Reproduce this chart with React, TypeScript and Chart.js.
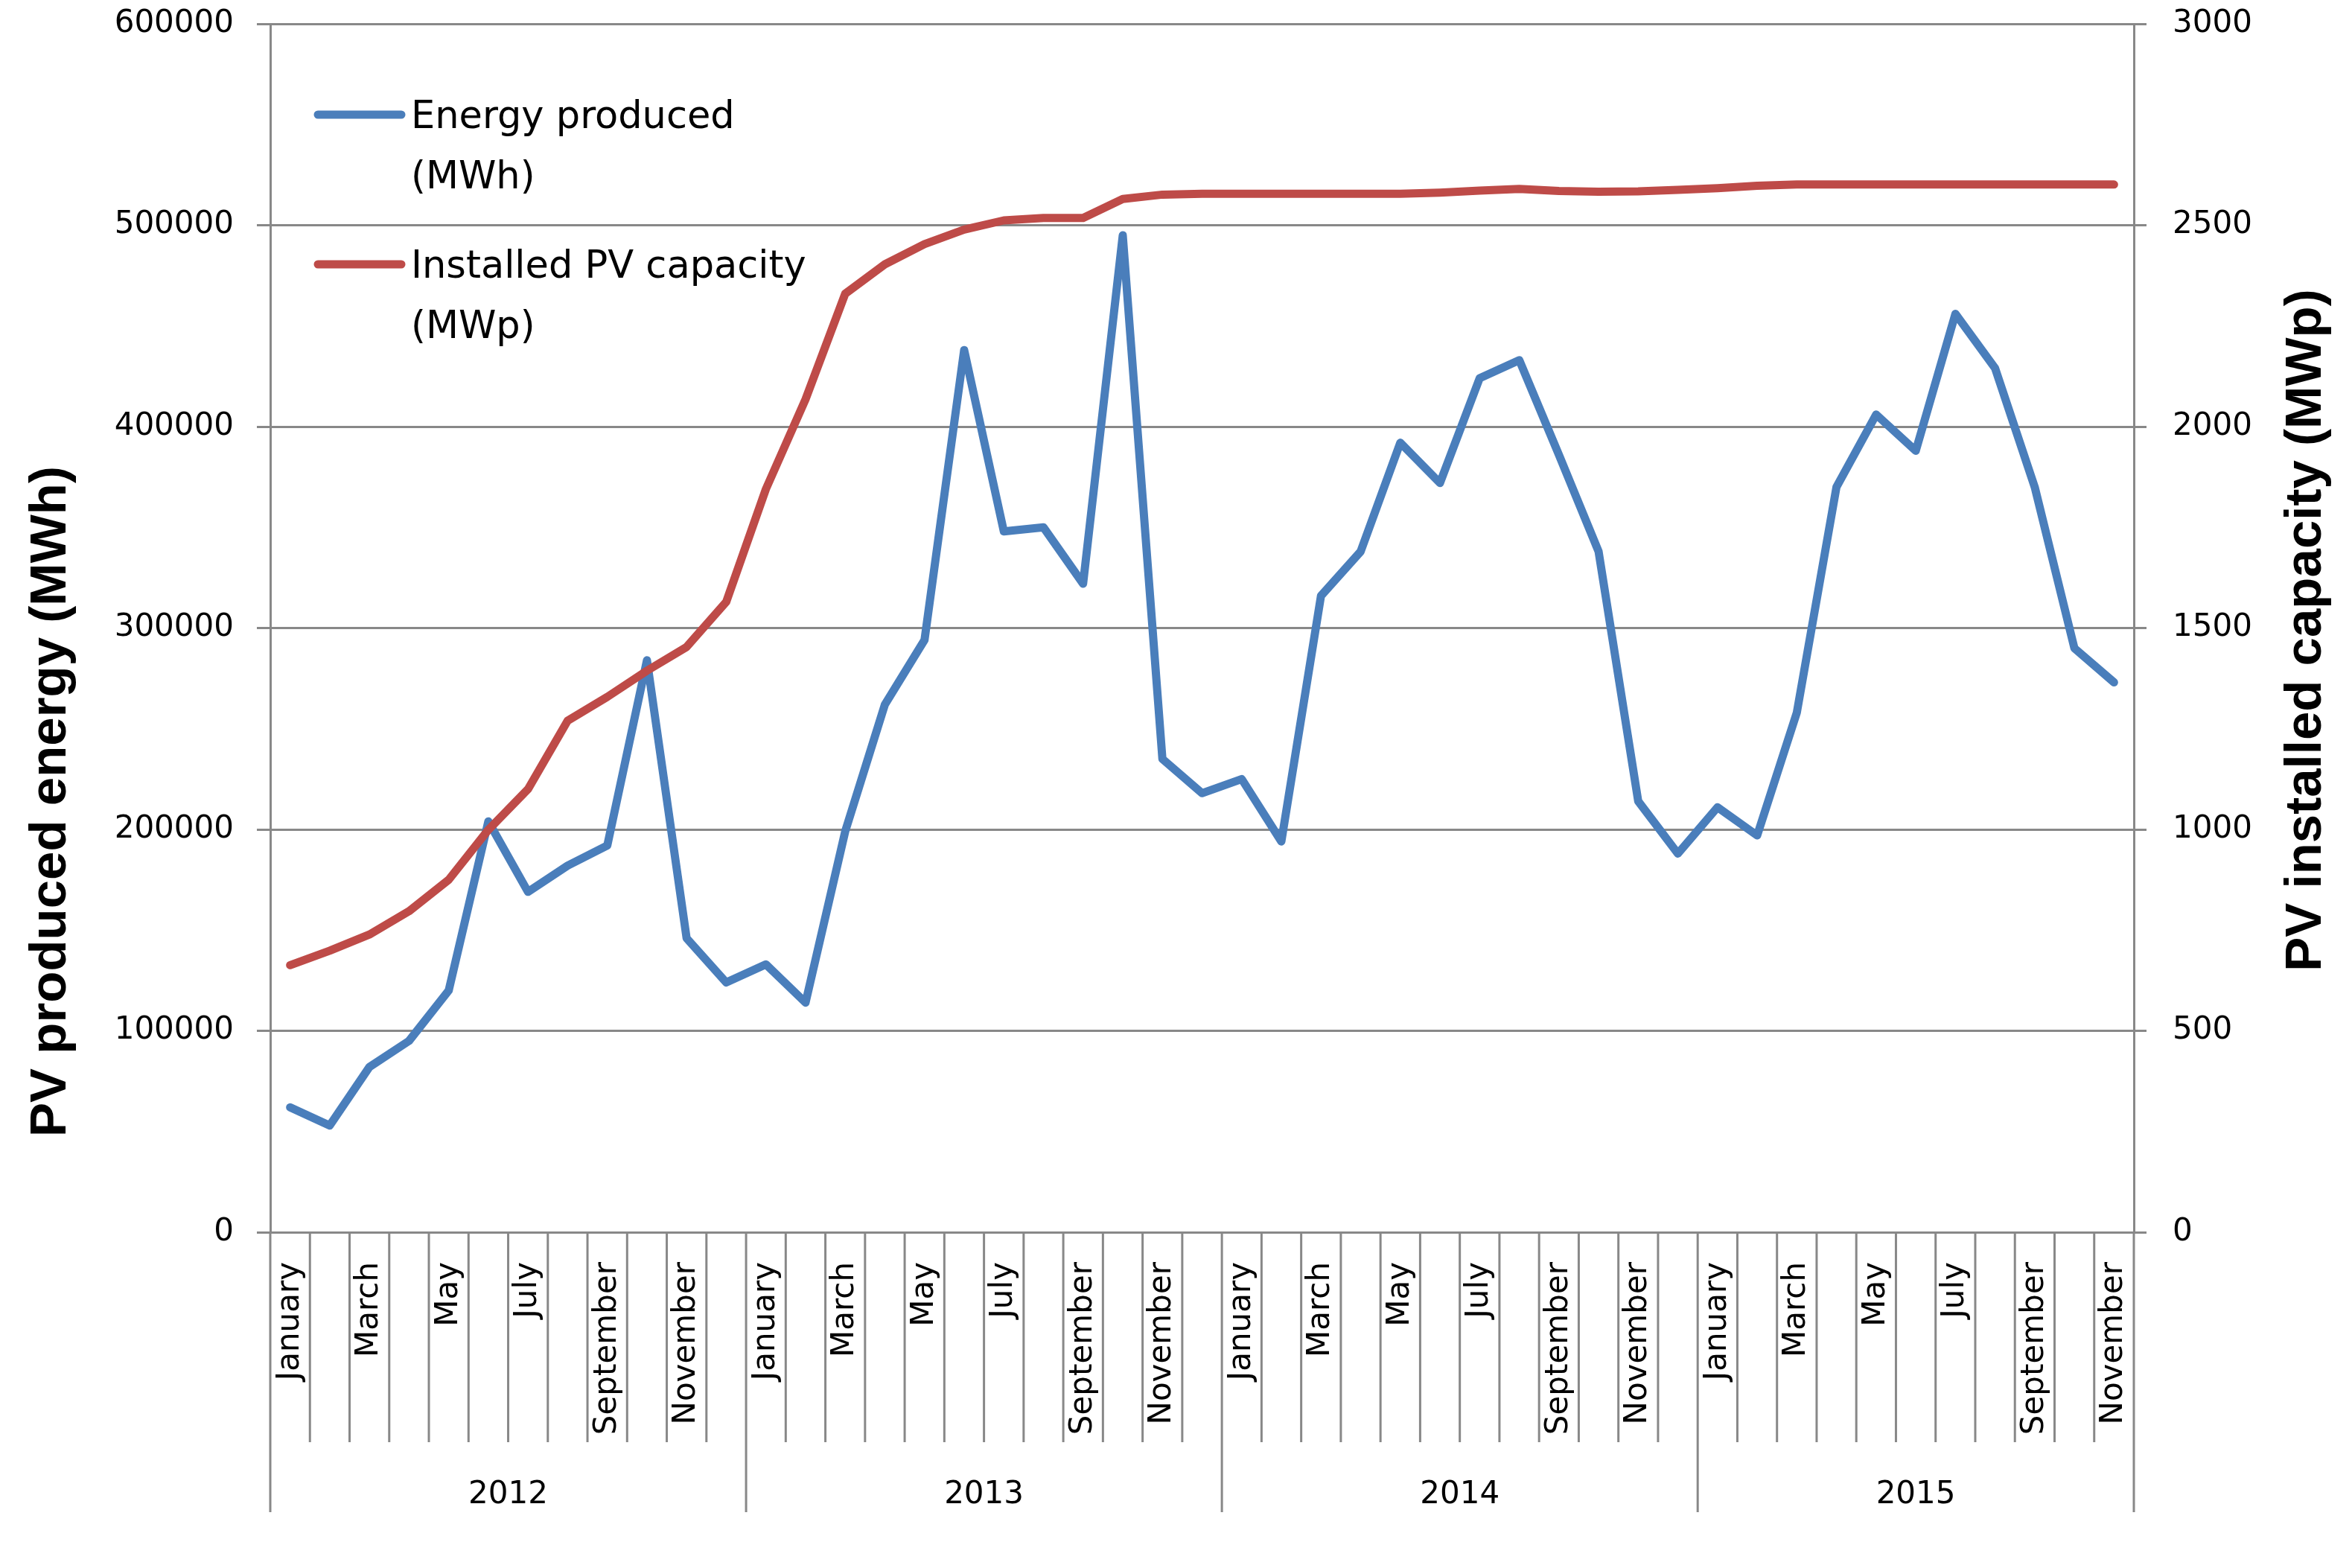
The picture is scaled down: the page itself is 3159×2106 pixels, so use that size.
import React, { useEffect, useRef } from 'react';
import { Chart, registerables } from 'chart.js';

Chart.register(...registerables);

// ---------- data ----------
const years = ['2012', '2013', '2014', '2015'];
const monthsPerYear = [12, 12, 12, 11];
const monthNames = [
  'January', 'February', 'March', 'April', 'May', 'June',
  'July', 'August', 'September', 'October', 'November', 'December',
];

// Energy produced (MWh), Jan 2012 .. Nov 2015
const energyProduced = [
  62000, 53000, 82000, 95000, 120000, 204000, 169000, 182000, 192000, 284000, 146000, 124000,
  133000, 114000, 199000, 262000, 294000, 438000, 348000, 350000, 322000, 495000, 235000, 218000,
  225000, 194000, 316000, 338000, 392000, 372000, 424000, 433000, 386000, 338000, 214000, 188000,
  211000, 197000, 258000, 370000, 406000, 388000, 456000, 429000, 370000, 290000, 273000,
];

// Installed PV capacity (MWp), Jan 2012 .. Nov 2015
const installedCapacity = [
  663, 699, 739, 797, 875, 999, 1100, 1270, 1329, 1394, 1453, 1565,
  1845, 2068, 2330, 2403, 2453, 2489, 2512, 2518, 2518, 2565, 2576, 2578,
  2578, 2578, 2578, 2578, 2578, 2581, 2586, 2590, 2585, 2583, 2584, 2588,
  2592, 2598, 2601, 2601, 2601, 2601, 2601, 2601, 2601, 2601, 2601,
];

const seriesLabels = [
  ['Energy produced', '(MWh)'],
  ['Installed PV capacity', '(MWp)'],
];
const leftAxisTitle = 'PV produced energy (MWh)';
const rightAxisTitle = 'PV installed capacity (MWp)';
const leftAxisRange = [0, 600000, 100000];
const rightAxisRange = [0, 3000, 500];

// ---------- styles ----------
const BLUE = '#4A7EBB';
const RED = '#BE4B48';
const GRID = '#888888';
const TICK_FONT = '"DejaVu Sans", sans-serif';
const TITLE_FONT = '"Liberation Sans", Arial, sans-serif';

const categories: string[] = [];
years.forEach((yr, k) => {
  for (let m = 0; m < monthsPerYear[k]; m++) categories.push(monthNames[m]);
});

const decorPlugin = {
  id: 'decor',
  afterDraw(chart: any) {
    const { ctx, chartArea, scales } = chart;
    const x = scales.x;
    const n = categories.length;
    const half = (x.getPixelForValue(1) - x.getPixelForValue(0)) / 2;
    const bottom = chartArea.bottom;

    // year boundary indices
    const yearBounds: number[] = [0];
    let acc = 0;
    monthsPerYear.forEach((c) => { acc += c; yearBounds.push(acc); });

    ctx.save();
    ctx.strokeStyle = GRID;
    ctx.lineWidth = 3;
    for (let j = 0; j <= n; j++) {
      const px = j < n ? x.getPixelForValue(j) - half : x.getPixelForValue(n - 1) + half;
      const len = yearBounds.includes(j) ? 376 : 282;
      ctx.beginPath();
      ctx.moveTo(px, bottom);
      ctx.lineTo(px, bottom + len);
      ctx.stroke();
    }

    // year labels
    ctx.fillStyle = '#000';
    ctx.font = `42px ${TICK_FONT}`;
    ctx.textAlign = 'center';
    ctx.textBaseline = 'alphabetic';
    for (let k = 0; k < years.length; k++) {
      const s = yearBounds[k];
      const e = yearBounds[k + 1];
      const x0 = x.getPixelForValue(s) - half;
      const x1 = x.getPixelForValue(e - 1) + half;
      ctx.fillText(years[k], (x0 + x1) / 2, bottom + 364);
    }

    // legend
    const colors = [BLUE, RED];
    const lx0 = chartArea.left + 64;
    const lx1 = chartArea.left + 176;
    const tx = chartArea.left + 189;
    const entryTops = [chartArea.top + 122, chartArea.top + 323];
    ctx.textAlign = 'left';
    ctx.font = `51px ${TICK_FONT}`;
    seriesLabels.forEach((lines, k) => {
      const ly = entryTops[k];
      ctx.strokeStyle = colors[k];
      ctx.lineWidth = 11;
      ctx.lineCap = 'round';
      ctx.beginPath();
      ctx.moveTo(lx0, ly);
      ctx.lineTo(lx1, ly);
      ctx.stroke();
      ctx.fillStyle = '#000';
      lines.forEach((t, li) => {
        ctx.fillText(t, tx, ly + 18 + li * 81);
      });
    });

    // axis titles (both read bottom-to-top)
    ctx.font = `bold 69px ${TITLE_FONT}`;
    ctx.textAlign = 'center';
    ctx.fillStyle = '#000';
    const midY = (chartArea.top + chartArea.bottom) / 2;
    ctx.save();
    ctx.translate(88, midY + 233);
    ctx.rotate(-Math.PI / 2);
    ctx.fillText(chart.options.scales.y.title.text, 0, 0);
    ctx.restore();
    ctx.save();
    ctx.translate(chart.width - 42, midY + 3);
    ctx.rotate(-Math.PI / 2);
    ctx.fillText(chart.options.scales.y1.title.text, 0, 0);
    ctx.restore();

    ctx.restore();
  },
};

export default function App() {
  const canvasRef = useRef<HTMLCanvasElement | null>(null);

  useEffect(() => {
    document.body.style.margin = '0';
    const canvas = canvasRef.current;
    if (!canvas) return;
    const chart = new Chart(canvas, {
      type: 'line',
      data: {
        labels: categories,
        datasets: [
          {
            label: seriesLabels[0].join(' '),
            data: energyProduced,
            yAxisID: 'y',
            borderColor: BLUE,
            backgroundColor: BLUE,
            borderWidth: 11,
            pointRadius: 0,
            tension: 0,
            borderJoinStyle: 'round',
            borderCapStyle: 'round',
            order: 1,
          },
          {
            label: seriesLabels[1].join(' '),
            data: installedCapacity,
            yAxisID: 'y1',
            borderColor: RED,
            backgroundColor: RED,
            borderWidth: 11,
            pointRadius: 0,
            tension: 0,
            borderJoinStyle: 'round',
            borderCapStyle: 'round',
            order: 0,
          },
        ],
      },
      options: {
        animation: false,
        responsive: false,
        maintainAspectRatio: false,
        layout: { padding: { top: 32, left: 0, right: 0, bottom: 0 } },
        plugins: {
          legend: { display: false },
          tooltip: { enabled: false },
          title: { display: false },
        },
        scales: {
          x: {
            type: 'category',
            offset: true,
            grid: { display: false },
            border: { display: false },
            ticks: {
              autoSkip: false,
              maxRotation: 90,
              minRotation: 90,
              padding: 32,
              color: '#000',
              font: { family: TICK_FONT, size: 42 },
              callback: function (this: any, value: any, index: number) {
                return index % 2 === 0 ? categories[index] : '';
              },
            },
            afterFit: (s: any) => { s.height = 451; },
          },
          y: {
            position: 'left',
            min: leftAxisRange[0],
            max: leftAxisRange[1],
            title: { display: false, text: leftAxisTitle },
            grid: { color: GRID, lineWidth: 3, tickLength: 18, drawTicks: true },
            border: { display: true, color: GRID, width: 3 },
            ticks: {
              stepSize: leftAxisRange[2],
              padding: 31,
              color: '#000',
              font: { family: TICK_FONT, size: 42 },
              callback: (v: any) => String(v),
            },
            afterFit: (s: any) => { s.width = 363; s.paddingTop = 0; s.paddingBottom = 0; },
          },
          y1: {
            position: 'right',
            min: rightAxisRange[0],
            max: rightAxisRange[1],
            title: { display: false, text: rightAxisTitle },
            grid: { drawOnChartArea: false, color: GRID, lineWidth: 3, tickLength: 17, drawTicks: true },
            border: { display: true, color: GRID, width: 3 },
            ticks: {
              stepSize: rightAxisRange[2],
              padding: 35,
              color: '#000',
              font: { family: TICK_FONT, size: 42 },
              callback: (v: any) => String(v),
            },
            afterFit: (s: any) => { s.width = 293; s.paddingTop = 0; s.paddingBottom = 0; },
          },
        },
      } as any,
      plugins: [decorPlugin],
    });
    return () => chart.destroy();
  }, []);

  return (
    <div style={{ width: 3159, height: 2106, background: '#fff' }}>
      <canvas ref={canvasRef} width={3159} height={2106} style={{ display: 'block', width: 3159, height: 2106 }} />
    </div>
  );
}
